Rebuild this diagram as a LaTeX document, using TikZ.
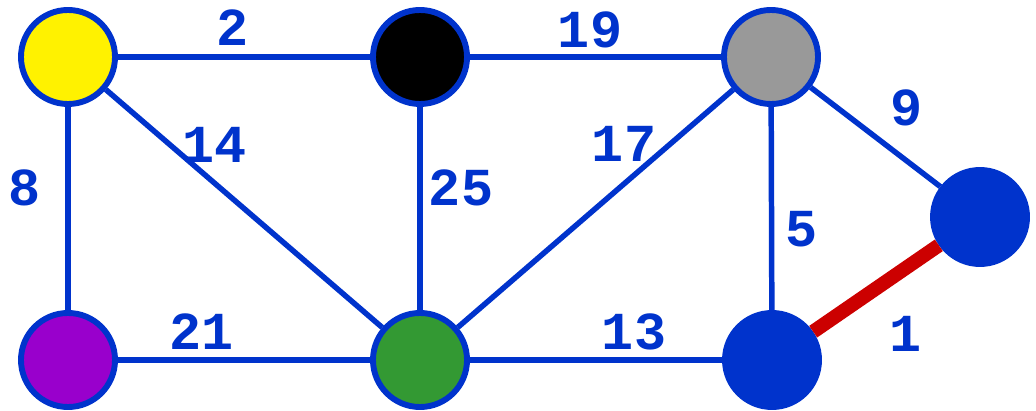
\documentclass[tikz,border=0pt]{standalone}
\usepackage{fontspec}
\setmonofont{Liberation Mono}
\usetikzlibrary{positioning}
\definecolor{edgeblue}{HTML}{0033CC}
\definecolor{nodegray}{HTML}{999999}
\definecolor{nodepurple}{HTML}{9900CC}
\definecolor{nodegreen}{HTML}{339933}
\definecolor{edgered}{HTML}{CC0000}
\begin{document}
\begin{tikzpicture}[
    x=0.025cm, y=-0.025cm,
    vert/.style={circle, draw=edgeblue, line width=4.2pt, minimum size=2.35cm, inner sep=0pt},
    wedge/.style={draw=edgeblue, line width=3.9pt},
    wlabel/.style={text=edgeblue, font=\ttfamily\bfseries\fontsize{38}{40}\selectfont, inner sep=0pt}
]
\useasboundingbox (0,0) rectangle (1036,411);
\node[vert, fill=yellow] (a) at (68,57) {};
\node[vert, fill=black] (b) at (420,57) {};
\node[vert, fill=nodegray] (c) at (771,57) {};
\node[vert, fill=edgeblue] (d) at (980,217) {};
\node[vert, fill=nodepurple] (e) at (68,360) {};
\node[vert, fill=nodegreen] (f) at (420,360) {};
\node[vert, fill=edgeblue] (g) at (772,360) {};

\draw[wedge] (a) -- (b);
\draw[wedge] (b) -- (c);
\draw[wedge] (a) -- (e);
\draw[wedge] (a) -- (f);
\draw[wedge] (b) -- (f);
\draw[wedge] (c) -- (f);
\draw[wedge] (c) -- (d);
\draw[wedge] (c) -- (g);
\draw[wedge] (e) -- (f);
\draw[wedge] (f) -- (g);
\draw[draw=edgered, line width=10pt] (g) -- (d);

\node[wlabel] (l2) at (233,28) {2};
\node[wlabel] (l19) at (590,30) {19};
\node[wlabel] (l14) at (215,145) {14};
\node[wlabel] (l8) at (25,188) {8};
\node[wlabel] (l25) at (461,188) {25};
\node[wlabel] (l17) at (624,144) {17};
\node[wlabel] (l9) at (907,108) {9};
\node[wlabel] (l5) at (802,229) {5};
\node[wlabel] (l21) at (202,332) {21};
\node[wlabel] (l13) at (634,332) {13};
\node[wlabel] (l1) at (906,334) {1};
\end{tikzpicture}
\end{document}
